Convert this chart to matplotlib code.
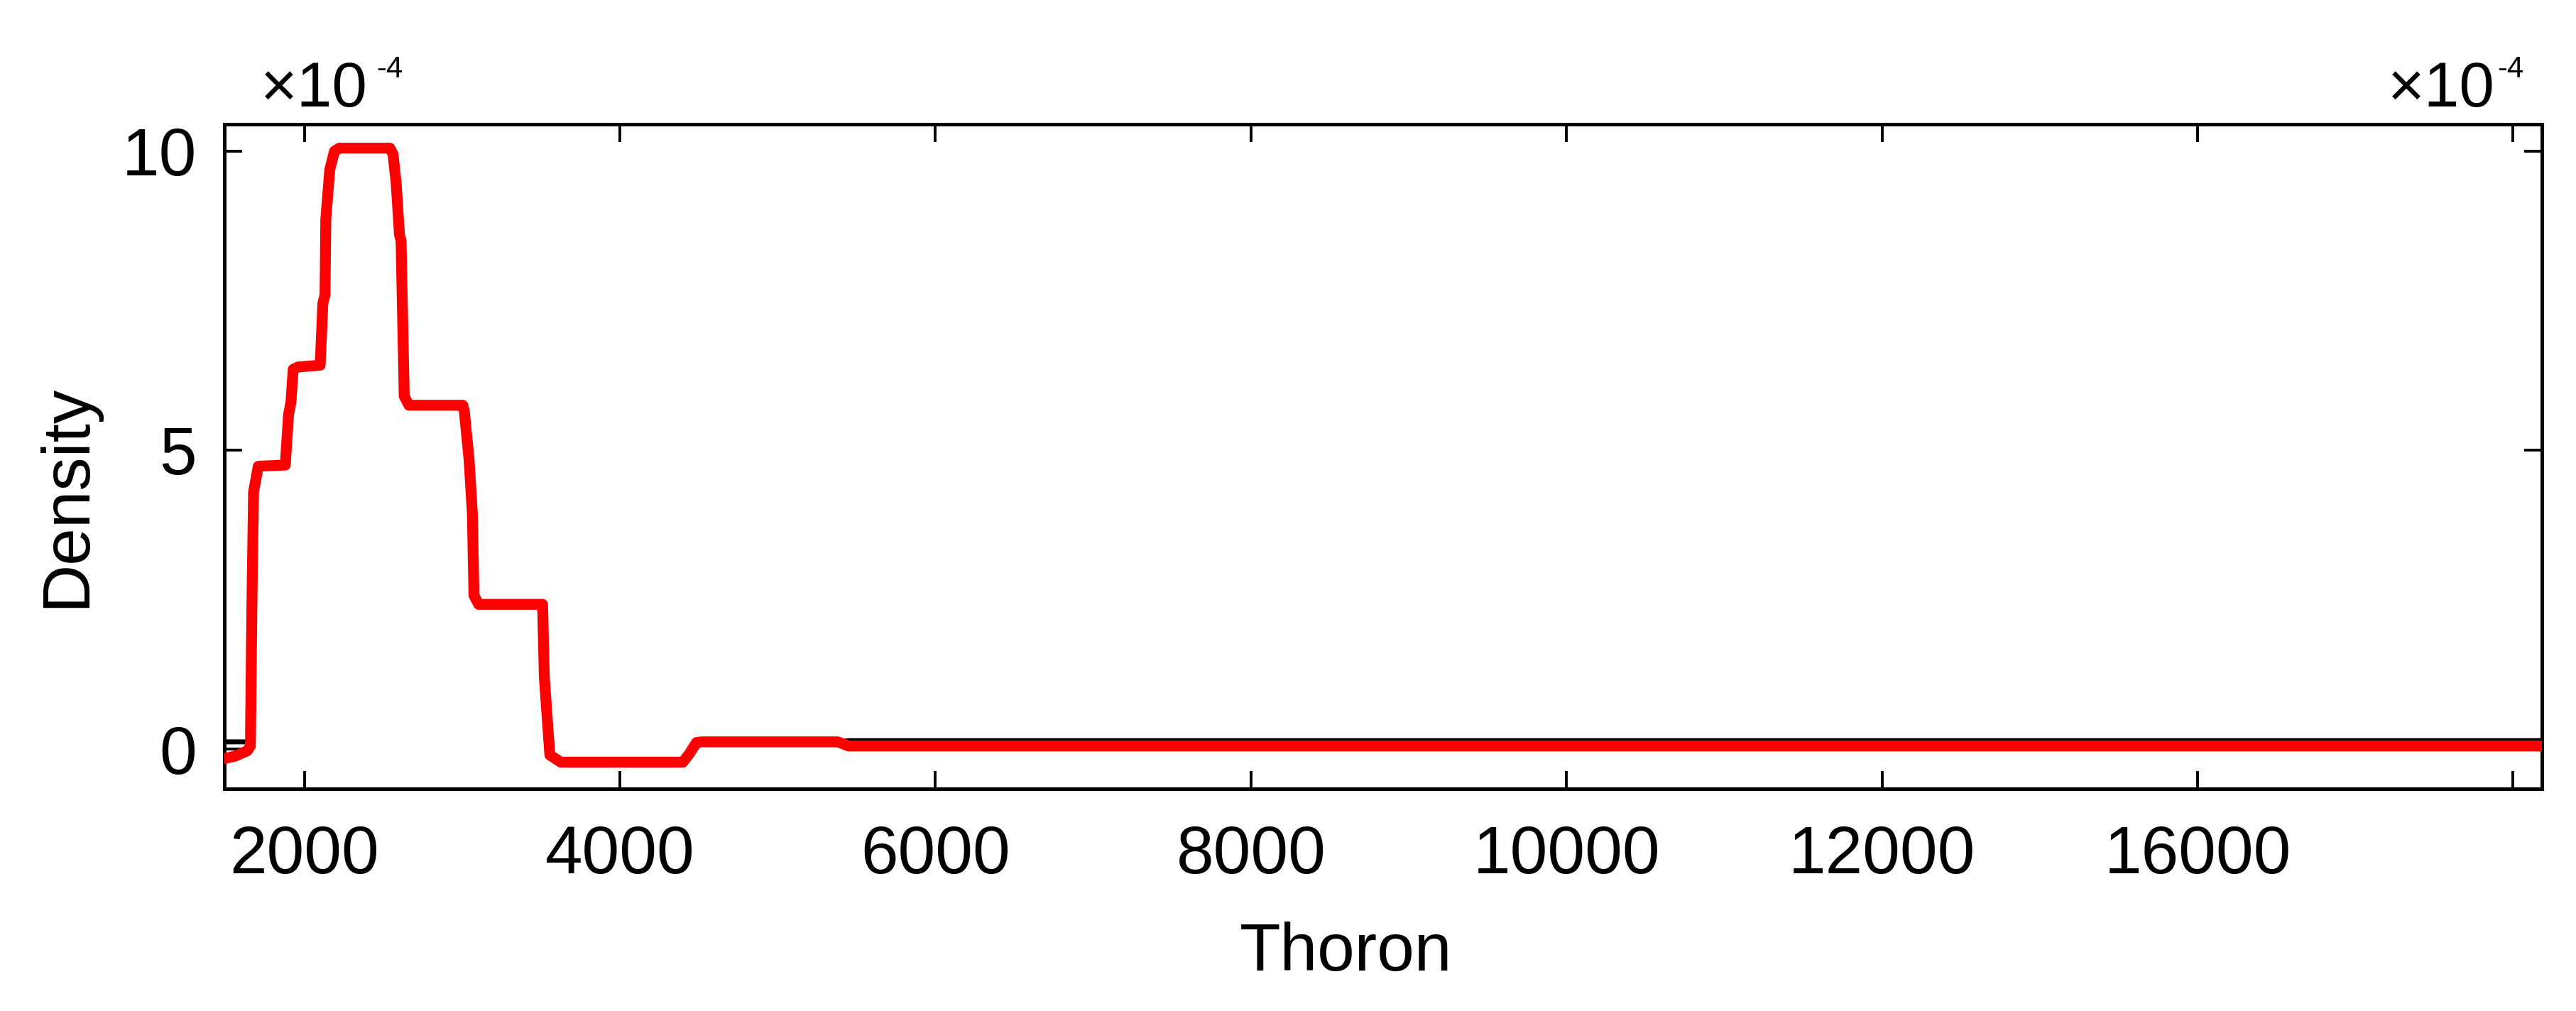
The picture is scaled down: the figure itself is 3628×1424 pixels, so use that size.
import matplotlib
matplotlib.use("Agg")
import matplotlib.pyplot as plt

# --- DATA (density in units of 1e-4) ---
thoron = [1493, 1560, 1638, 1658, 1668, 1678, 1708, 1879, 1890, 1900, 1915, 1929,
          1960, 2100, 2110, 2117, 2131, 2136, 2161, 2191, 2221, 2542, 2562, 2582,
          2603, 2613, 2633, 2663, 3004, 3014, 3044, 3065, 3075, 3105, 3510, 3521,
          3556, 3625, 4399, 4440, 4486, 4520, 5381, 5450, 16183]
density_red = [-0.16, -0.12, -0.03, 0.05, 2.5, 4.3, 4.73, 4.75, 5.2, 5.6, 5.8, 6.35,
               6.39, 6.42, 7.0, 7.45, 7.6, 8.86, 9.69, 10.0, 10.05, 10.05, 9.95, 9.46,
               8.6, 8.5, 5.9, 5.75, 5.75, 5.65, 4.84, 3.93, 2.57, 2.42, 2.42, 1.2,
               -0.1, -0.22, -0.22, -0.08, 0.11, 0.12, 0.12, 0.05, 0.05]
density_black = [0.12, 0.12, 0.12, 0.14, 2.5, 4.3, 4.73, 4.75, 5.2, 5.6, 5.8, 6.35,
                 6.39, 6.42, 7.0, 7.45, 7.6, 8.86, 9.69, 10.0, 10.05, 10.05, 9.95, 9.46,
                 8.6, 8.5, 5.9, 5.75, 5.75, 5.65, 4.84, 3.93, 2.57, 2.42, 2.42, 1.2,
                 -0.1, -0.22, -0.22, -0.08, 0.11, 0.12, 0.12, 0.14, 0.14]

x_ticks = [2000, 4000, 6000, 8000, 10000, 12000, 14000, 16000]
x_tick_labels = ['2000', '4000', '6000', '8000', '10000', '12000', '16000', '']
y_ticks = [0, 5, 10]
y_tick_labels = ['0', '5', '10']

# --- STYLE ---
plt.rcParams['font.family'] = ['Liberation Sans', 'DejaVu Sans']
FS = 34

fig = plt.figure(figsize=(18.14, 7.12), dpi=200)
ax = fig.add_axes([0.0871, 0.2198, 0.8997, 0.6573])

ax.plot(thoron, density_black, color='black', linewidth=2.5, zorder=2)
ax.plot(thoron, density_red, color='#ff0000', linewidth=5.5, zorder=3,
        solid_joinstyle='round')

ax.set_xlim(1493, 16183)
ax.set_ylim(-0.665, 10.45)
ax.set_xticks(x_ticks)
ax.set_xticklabels(x_tick_labels)
ax.set_yticks(y_ticks)
ax.set_yticklabels(y_tick_labels)

ax.tick_params(direction='in', top=True, right=True, length=9, width=1.4,
               labelsize=FS)
ax.tick_params(axis='x', pad=18)
ax.tick_params(axis='y', pad=14)
for sp in ax.spines.values():
    sp.set_linewidth(1.8)

ax.set_xlabel('Thoron', fontsize=FS)
ax.set_ylabel('Density', fontsize=FS)
ax.xaxis.set_label_coords(0.484, -0.2)
ax.yaxis.set_label_coords(-0.054, 0.441)

# exponent labels (MATLAB style)
fig.text(0.1012, 0.8947, '×10', fontsize=32, va='baseline', ha='left')
fig.text(0.1461, 0.9452, '-4', fontsize=15, va='top', ha='left')
fig.text(0.9269, 0.8947, '×10', fontsize=32, va='baseline', ha='left')
fig.text(0.9694, 0.9452, '-4', fontsize=15, va='top', ha='left')

fig.savefig('out.png', dpi=200)
